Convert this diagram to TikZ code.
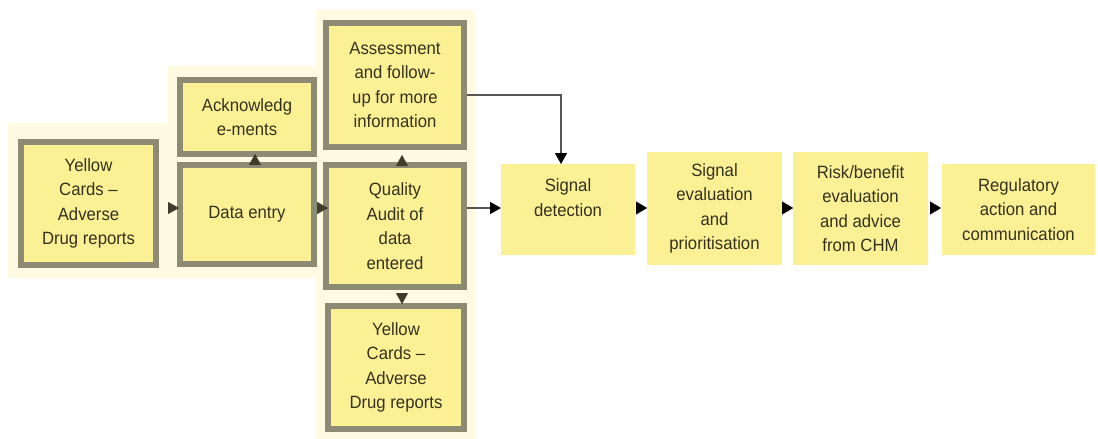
\documentclass[tikz,border=0pt]{standalone}
\usepackage{fontspec}
\setmainfont{Liberation Sans}[FakeStretch=0.94]
\usetikzlibrary{arrows.meta}
\definecolor{cream}{HTML}{FEFBE2}
\definecolor{boxfill}{HTML}{FBF093}
\definecolor{boxedge}{HTML}{8E8B74}
\definecolor{inkcol}{HTML}{33321F}
\definecolor{olivedark}{HTML}{3E3D2C}
\definecolor{linkgray}{HTML}{555555}
\tikzset{
  lbl/.style={font=\fontsize{17.8}{24.5}\selectfont, text=inkcol, align=center, inner sep=0pt},
  framed/.style={lbl, draw=boxedge, line width=6pt, fill=boxfill},
  plain/.style={lbl, fill=boxfill, outer sep=0pt},
  olivehead/.style={line width=0.01pt, draw=olivedark, -{Triangle[length=11pt,width=12pt,color=olivedark]}},
  blackhead/.style={line width=0.01pt, draw=black, -{Triangle[length=11pt,width=13pt,color=black]}},
  feed/.style={line width=1.6pt, draw=linkgray, -{Triangle[length=11pt,width=12pt,color=black]}}
}
\begin{document}
\begin{tikzpicture}[x=1pt,y=-1pt]
\useasboundingbox (0,0) rectangle (1098,439);
% pale panels behind the intake stages
\fill[cream] (8,123) rectangle (320,278);
\fill[cream] (168,66) rectangle (320,278);
\fill[cream] (316,10) rectangle (476,439);

% helper rows and columns for the connectors
\coordinate (row) at (0,208);
\coordinate (asmrow) at (0,95);
\coordinate (sdcol) at (561,0);

% intake stages
\node[framed, minimum width=135pt, minimum height=123pt] (yc1) at (88.5,203.5) {Yellow\\Cards –\\Adverse\\Drug reports};
\node[framed, minimum width=134pt, minimum height=99pt] (de) at (247,214.5) {Data entry};
\node[framed, minimum width=134pt, minimum height=74pt] (ack) at (247,117) {Acknowledg\\e-ments};
\node[framed, minimum width=138pt, minimum height=124pt] (asm) at (395,85) {Assessment\\and follow-\\up for more\\information};
\node[framed, minimum width=138pt, minimum height=122pt] (qa) at (395,226) {Quality\\Audit of\\data\\entered};
\node[framed, minimum width=136pt, minimum height=123pt] (yc2) at (396,367.5) {Yellow\\Cards –\\Adverse\\Drug reports};

% signal stages
\node[plain, minimum width=134pt, minimum height=91pt, text depth=24pt] (sd) at (568,209.5) {Signal\\detection};
\node[plain, minimum width=135pt, minimum height=113pt] (se) at (714.5,208.5) {Signal\\evaluation\\and\\prioritisation};
\node[plain, minimum width=135pt, minimum height=113pt] (rb) at (860.5,208.5) {Risk/benefit\\evaluation\\and advice\\from CHM};
\node[plain, minimum width=153pt, minimum height=91pt] (rg) at (1018.5,209.5) {Regulatory\\action and\\communication};

% intake connectors
\draw[olivehead, shorten <=9pt, shorten >=-2pt] (yc1.east |- row) -- (de.west |- row);
\draw[olivehead, shorten >=-5pt] (de.east |- row) -- (qa.west |- row);
\draw[olivehead, shorten <=-3pt, shorten >=-3pt] (de.north -| 255,0) -- (ack.south -| 255,0);
\draw[olivehead, shorten <=-4pt, shorten >=5pt] (qa.north -| 402,0) -- (asm.south -| 402,0);
\draw[olivehead, shorten <=3pt, shorten >=-1pt] (qa.south -| 402,0) -- (yc2.north -| 402,0);

% feeds into signal detection
\draw[feed] (qa.east |- row) -- (sd.west |- row);
\draw[feed] (asm.east |- asmrow) -| (sdcol |- sd.north);

% signal pipeline
\draw[blackhead, shorten <=1pt] (sd.east |- row) -- (se.west |- row);
\draw[blackhead] (se.east |- row) -- (rb.west |- row);
\draw[blackhead, shorten <=2pt, shorten >=1pt] (rb.east |- row) -- (rg.west |- row);
\end{tikzpicture}
\end{document}
